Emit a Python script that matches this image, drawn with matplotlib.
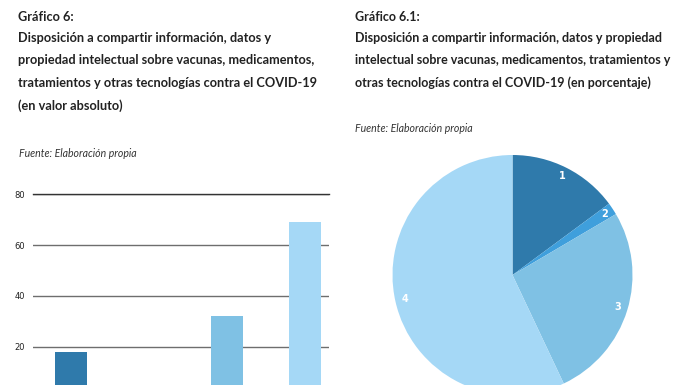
import matplotlib
matplotlib.use("Agg")
import matplotlib.pyplot as plt

# ------------------------------
# datos
# ------------------------------
categorias = ["1", "2", "3", "4"]
valores = [18, 2, 32, 69]
colores = ["#2f7aab", "#3f9fdc", "#7fc1e4", "#a5d8f6"]
ticks_y = [20, 40, 60, 80]

titulo_izq = ["Gráfico 6:",
              "Disposición a compartir información, datos y",
              "propiedad intelectual sobre vacunas, medicamentos,",
              "tratamientos y otras tecnologías contra el COVID-19",
              "(en valor absoluto)"]
titulo_der = ["Gráfico 6.1:",
              "Disposición a compartir información, datos y propiedad",
              "intelectual sobre vacunas, medicamentos, tratamientos y",
              "otras tecnologías contra el COVID-19 (en porcentaje)"]
fuente = "Fuente: Elaboración propia"

W, H = 696, 385
fig = plt.figure(figsize=(W / 100, H / 100), dpi=100)

titulo_font = ["Lato", "DejaVu Sans"]
y_lineas = [17, 38, 60.5, 83, 105.5]

for txt, y in zip(titulo_izq, y_lineas):
    fig.text(18 / W, 1 - y / H, txt, fontsize=9.2, fontweight="bold",
             family=titulo_font, color="#222222", va="center", ha="left")
for txt, y in zip(titulo_der, y_lineas):
    fig.text(355 / W, 1 - y / H, txt, fontsize=9, fontweight="bold",
             family=titulo_font, color="#222222", va="center", ha="left")

fig.text(19 / W, 1 - 153.5 / H, fuente, fontsize=7.6, style="italic",
         family=titulo_font, color="#333333", va="center", ha="left")
fig.text(355 / W, 1 - 129 / H, fuente, fontsize=7.6, style="italic",
         family=titulo_font, color="#333333", va="center", ha="left")

# ------------------------------
# barras (recortadas abajo como en el original)
# ------------------------------
top_px, cero_px = 194.3, 397.5
ax = fig.add_axes([33 / W, 1 - cero_px / H, 296 / W, (cero_px - top_px) / H])
x = list(range(len(valores)))
ax.bar(x, valores, width=0.42, color=colores, zorder=3)
ax.set_xlim(-0.487, 3.308)
ax.set_ylim(0, 80)
ax.set_yticks(ticks_y)
ax.set_yticklabels([str(t) for t in ticks_y],
                   family=["Liberation Sans Narrow", "DejaVu Sans"],
                   fontsize=6, color="#222222")
ax.tick_params(axis="y", length=0, pad=6)
ax.set_xticks([])
ax.grid(axis="y", color="#6e6e6e", linewidth=1)
ax.set_axisbelow(True)
for s in ["left", "right", "bottom"]:
    ax.spines[s].set_visible(False)
ax.spines["top"].set_color("#333333")
ax.spines["top"].set_linewidth(1)
ax.patch.set_alpha(0)

# ------------------------------
# pastel
# ------------------------------
cx, cy, r = 512.5, 275, 120
ax2 = fig.add_axes([(cx - r) / W, 1 - (cy + r) / H, 2 * r / W, 2 * r / H])
wedges, textos = ax2.pie(valores, colors=colores, startangle=90,
                         counterclock=False, labels=categorias,
                         labeldistance=0.92,
                         wedgeprops={"linewidth": 0},
                         textprops={"color": "white", "fontsize": 7,
                                    "fontweight": "bold"})
for t in textos:
    t.set_ha("center")
    t.set_va("center")
ax2.set_xlim(-1, 1)
ax2.set_ylim(-1, 1)
ax2.set_aspect("auto")

fig.savefig("out.png", dpi=100)
